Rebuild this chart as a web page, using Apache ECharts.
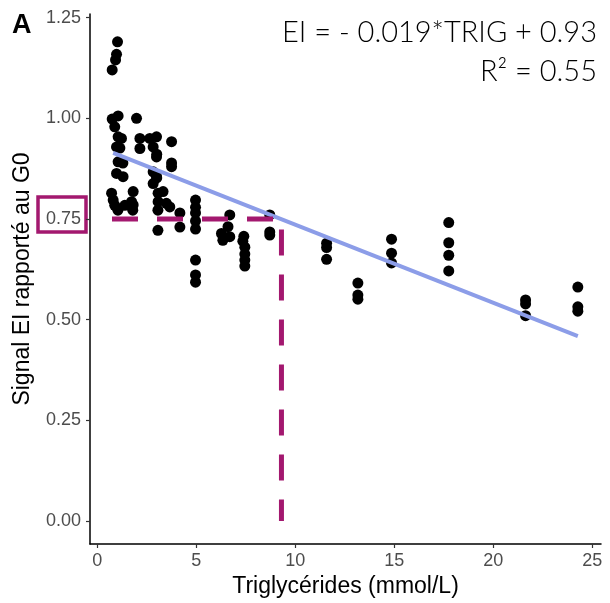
<!DOCTYPE html>
<html><head><meta charset="utf-8">
<script src="https://cdn.jsdelivr.net/npm/echarts@6/dist/echarts.min.js"></script>
<style>html,body{margin:0;padding:0;background:#fff}#c{width:610px;height:603px}</style>
</head><body><div id="c"></div>
<script>
// Data
const trigX = [
  1.02,0.97,0.92,0.75,0.75,1.05,0.88,1.05,1.22,0.97,1.14,1.05,0.97,1.30,0.72,0.80,0.88,1.39,1.04,1.29,
  1.98,2.15,2.15,1.81,1.73,1.81,1.79,
  2.65,2.99,2.82,2.99,2.82,2.99,2.82,3.07,3.32,3.07,3.06,3.06,3.00,3.00,
  3.75,3.75,3.75,3.49,3.66,4.17,4.17,
  4.96,4.96,4.96,4.96,4.96,4.96,4.96,4.96,
  6.69,6.60,6.27,6.69,6.34,
  7.40,7.35,7.45,7.45,7.45,7.45,
  8.71,8.71,8.71,
  11.58,11.58,11.58,
  13.16,13.16,13.16,
  14.86,14.86,14.86,
  17.75,17.75,17.75,17.75,
  21.63,21.63,21.63,
  24.27,24.27,24.27
];
const eiY = [
  1.190,1.159,1.145,1.120,0.998,1.006,0.979,0.954,0.950,0.929,0.926,0.892,0.863,0.855,0.814,0.797,0.784,0.784,0.772,0.889,
  1.000,0.950,0.925,0.818,0.793,0.785,0.772,
  0.950,0.954,0.929,0.904,0.867,0.855,0.838,0.814,0.818,0.793,0.772,0.722,0.911,0.852,
  0.942,0.889,0.880,0.789,0.780,0.765,0.730,
  0.797,0.779,0.765,0.745,0.725,0.648,0.611,0.593,
  0.760,0.731,0.714,0.706,0.697,
  0.707,0.695,0.680,0.663,0.648,0.633,
  0.760,0.718,0.710,
  0.690,0.679,0.650,
  0.591,0.561,0.551,
  0.700,0.665,0.641,
  0.741,0.691,0.660,0.621,
  0.549,0.539,0.510,
  0.581,0.532,0.521
];
const fitX = [0.8, 24.27];
const fitY = [0.914, 0.459];
const guideX = [0.74, 9.3, 9.3];
const guideY = [0.75, 0.75, 0.0];
const xTicks = [0, 5, 10, 15, 20, 25];
const yTicks = [0, 0.25, 0.5, 0.75, 1.0, 1.25];
const xTitle = 'Triglycérides (mmol/L)';
const yTitle = 'Signal EI rapporté au G0';
const eqLine1 = 'EI = - 0.019*TRIG + 0.93';
const eqLine2 = 'R² = 0.55';
const panel = 'A';

const chart = echarts.init(document.getElementById('c'), null, {renderer: 'canvas'});
const pts = trigX.map((x, i) => [x, eiY[i]]);
const fit = fitX.map((x, i) => [x, fitY[i]]);
const guide = guideX.map((x, i) => [x, guideY[i]]);
const magenta = '#a3186f';

chart.setOption({
  animation: false,
  backgroundColor: '#fff',
  grid: {left: 90, right: 9, top: 14, bottom: 59},
  xAxis: {
    type: 'value', min: -0.37, max: 25.44,
    name: xTitle, nameLocation: 'middle', nameGap: 29,
    nameTextStyle: {fontFamily: 'Liberation Sans', fontSize: 23, color: '#000'},
    splitLine: {show: false},
    axisLine: {show: true, onZero: false, lineStyle: {color: '#000', width: 1.5}},
    axisTick: {show: true, length: 4, customValues: xTicks, lineStyle: {color: '#333', width: 1.2}},
    axisLabel: {customValues: xTicks, margin: 8, fontFamily: 'Liberation Sans', fontSize: 18, color: '#4d4d4d'}
  },
  yAxis: {
    type: 'value', min: -0.057, max: 1.259,
    name: yTitle, nameLocation: 'middle', nameGap: 56,
    nameTextStyle: {fontFamily: 'Liberation Sans', fontSize: 23, color: '#000'},
    splitLine: {show: false},
    axisLine: {show: true, onZero: false, lineStyle: {color: '#000', width: 1.5}},
    axisTick: {show: true, length: 4, customValues: yTicks, lineStyle: {color: '#333', width: 1.2}},
    axisLabel: {customValues: yTicks, margin: 9, fontFamily: 'Liberation Sans', fontSize: 18, color: '#4d4d4d',
      formatter: v => v.toFixed(2)}
  },
  series: [
    {type: 'scatter', data: pts, symbolSize: 11, itemStyle: {color: '#000', opacity: 1}, z: 2},
    {type: 'line', data: fit, showSymbol: false, symbol: 'none', lineStyle: {color: '#8c9de8', width: 4}, z: 3},
    {type: 'line', data: guide, showSymbol: false, symbol: 'none',
      lineStyle: {color: magenta, width: 5, type: [26, 19], cap: 'butt'}, z: 4}
  ],
  graphic: [
    {type: 'text', left: 12, top: 12, style: {text: panel, font: 'bold 27px "Liberation Sans"', fill: '#000'}},
    {type: 'text', x: 597, y: 33, style: {text: eqLine1, font: '300 29px Lato', fill: '#000', textAlign: 'right', textVerticalAlign: 'middle'}},
    {type: 'text', x: 597, y: 72, style: {text: eqLine2, font: '300 29px Lato', fill: '#000', textAlign: 'right', textVerticalAlign: 'middle'}},
    {type: 'rect', shape: {x: 38, y: 197, width: 48, height: 35}, style: {fill: 'none', stroke: magenta, lineWidth: 3.5}}
  ]
});
</script></body></html>
